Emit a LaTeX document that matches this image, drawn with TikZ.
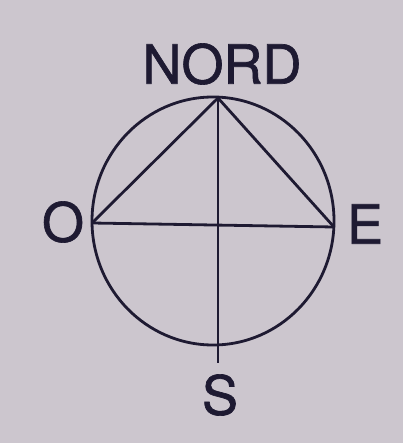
\documentclass[tikz,border=0pt]{standalone}
\usepackage{fontspec}
\setmainfont{TeX Gyre Heros}
\newfontfamily\lblfont[FakeBold=1.2]{TeX Gyre Heros}
\definecolor{paper}{RGB}{204,198,206}
\definecolor{ink}{RGB}{30,26,50}
\begin{document}
\begin{tikzpicture}[x=1pt,y=-1pt,
  ln/.style={draw=ink,line width=2.8pt},
  lbl/.style={text=ink,inner sep=0pt,font=\lblfont\fontsize{54}{54}\selectfont}]
\fill[paper] (0,0) rectangle (403,443);
\useasboundingbox (0,0) rectangle (403,443);
\coordinate (C) at (213,221);
\coordinate (N) at (218,98);
\coordinate (W) at (92,223);
\coordinate (Ea) at (334,227);
\coordinate (Sb) at (218,363);
\draw[ln] (C) ellipse [x radius=121, y radius=124];
\draw[ln] (N) -- (Sb);
\draw[ln] (W) -- (Ea);
\draw[ln,line join=round] (W) -- (N) -- (Ea);
\node[lbl] (nord) at (222,64) {NORD};
\node[lbl] (o) at (63,222) {O};
\node[lbl] (e) at (365,224) {E};
\node[lbl] (s) at (220,395) {S};
\end{tikzpicture}
\end{document}
